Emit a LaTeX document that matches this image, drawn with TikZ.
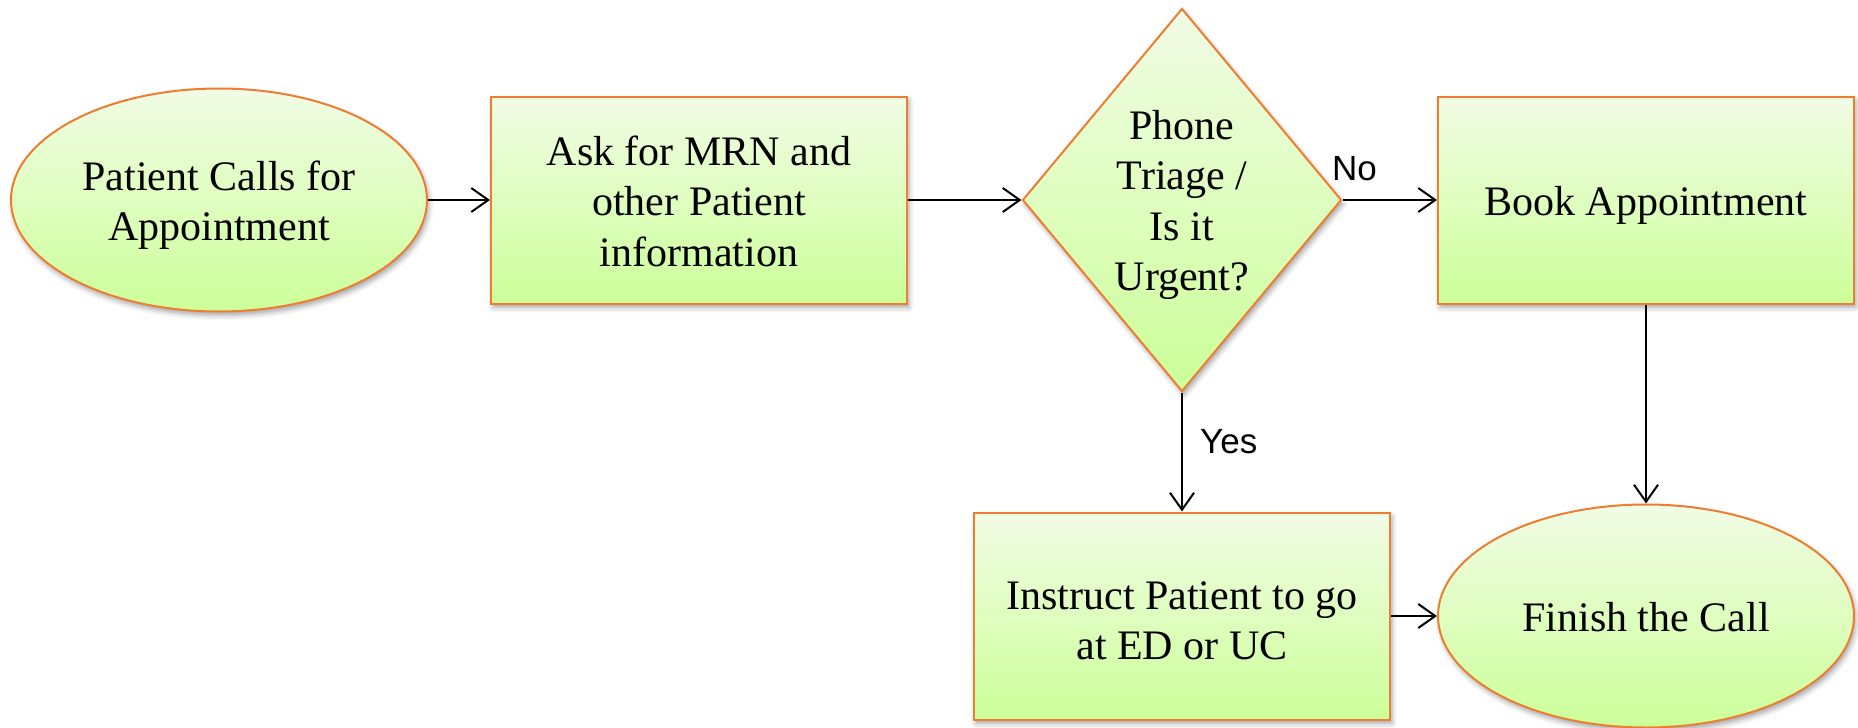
\documentclass[tikz,border=0pt]{standalone}
\usepackage{fontspec}
\setmainfont{Liberation Serif}
\newfontfamily\labelfont{Liberation Sans}
\usetikzlibrary{shapes.geometric,arrows.meta,shadows.blur}

\definecolor{fillTop}{RGB}{241,252,229}
\definecolor{fillBot}{RGB}{204,255,153}
\definecolor{edgeOrange}{RGB}{237,125,49}

\begin{document}
\begin{tikzpicture}[x=1pt,y=-1pt,
  flowshape/.style={draw=edgeOrange, line width=2pt,
    top color=fillTop, bottom color=fillBot,
    inner sep=0pt, align=center,
    font=\fontsize{42}{50.5}\selectfont,
    text depth=9pt,
    blur shadow={shadow xshift=2pt, shadow yshift=-4pt,
                 shadow blur radius=5pt, shadow opacity=35}},
  % fixed text box heights so that the lines sit like single-spaced text
  oneline/.style={text height=40pt},
  twolines/.style={text height=90.5pt},
  threelines/.style={text height=141pt},
  fourlines/.style={text height=190pt},
  procbox/.style={flowshape, rectangle, minimum width=416pt, minimum height=207pt},
  terminal/.style={flowshape, ellipse, minimum width=416pt, minimum height=223pt},
  decision/.style={flowshape, diamond, aspect=0.833, minimum width=319pt, minimum height=383pt},
  flow/.style={line width=2pt, -{Straight Barb[length=17pt,width=24pt,line width=2pt]}},
  branch/.style={font=\labelfont\fontsize{35}{40}\selectfont, inner sep=0pt}
]
\useasboundingbox (0,0) rectangle (1858,728);

% steps of the call
\node[terminal, twolines]   (start)    at (219,200)  {Patient Calls for\\Appointment};
\node[procbox, threelines]  (ask)      at (699,200)  {Ask for MRN and\\other Patient\\information};
\node[decision, fourlines]  (triage)   at (1182,200) {Phone\\Triage /\\Is it\\Urgent?};
\node[procbox, oneline]     (book)     at (1646,200) {Book Appointment};
\node[procbox, twolines, text height=96pt] (instruct) at (1182,616) {Instruct Patient to go\\at ED or UC};
\node[terminal, oneline]    (finish)   at (1646,616) {Finish the Call};

% connectors
\draw[flow] (start) -- (ask);
\draw[flow] (ask) -- (triage);
\draw[flow] (triage) -- (book);
\draw[flow] (triage) -- (instruct);
\draw[flow] (book) -- (finish);
\draw[flow] (instruct) -- (finish);

% branch labels
\node[branch, anchor=base west] (nolabel)  at (1332,180) {No};
\node[branch, anchor=base west] (yeslabel) at (1200,453) {Yes};
\end{tikzpicture}
\end{document}
